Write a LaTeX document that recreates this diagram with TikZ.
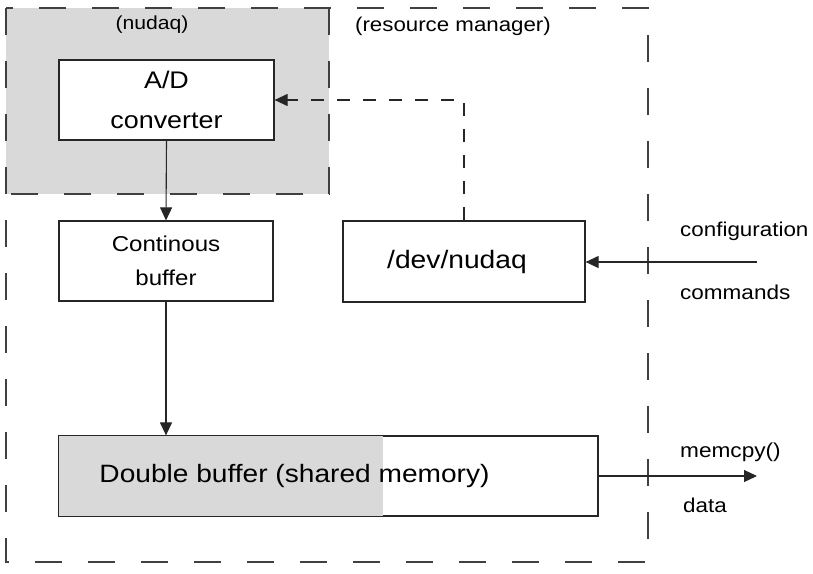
\documentclass[tikz,border=0pt]{standalone}
\usepackage{fontspec}
\setmainfont{Liberation Sans}[FakeStretch=1.12]
\usetikzlibrary{arrows.meta}
\definecolor{panelgray}{gray}{0.85}
\begin{document}
\begin{tikzpicture}[x=1pt,y=-1pt,
  box/.style={draw=black!85,line width=1.2pt,fill=white,inner sep=0pt},
  outerdash/.style={draw=black!75,line width=1.2pt,dash pattern=on 27pt off 26pt},
  flow/.style={draw=black!85,line width=1.1pt,-{Triangle[length=13pt,width=12pt]}},
  ctrl/.style={flow,dash pattern=on 13pt off 13pt},
  lbl/.style={anchor=base west,inner sep=0pt}]
\useasboundingbox (0,0) rectangle (813,573);

% shaded region of the nudaq driver
\fill[panelgray] (6,8) rectangle (329,194);

% resource manager boundary
\draw[outerdash] (6,8) rectangle (648,562);
\draw[outerdash] (329,8) -- (329,194) -- (6,194);

\node[inner sep=0pt] (nudaqlbl) at (152,25) {\fontsize{18.9}{22}\selectfont (nudaq)};
\node[inner sep=0pt] (rmlbl) at (453,26) {\fontsize{19.9}{22}\selectfont (resource manager)};

% processing blocks
\node[box,minimum width=215pt,minimum height=80pt,align=center,
      font=\fontsize{24}{40}\selectfont] (adc) at (166.5,100) {A/D\\converter};
\node[box,minimum width=214pt,minimum height=80pt,align=center,
      font=\fontsize{21.5}{34}\selectfont] (cbuf) at (166,261) {Continous\\buffer};
\node[box,minimum width=242pt,minimum height=81pt] (dev) at (464,261.5) {};
\node[inner sep=0pt,font=\fontsize{25.2}{28}\selectfont] (devtxt) at (457,261.5) {/dev/nudaq};

\node[box,minimum width=539pt,minimum height=80pt] (dbuf) at (328.5,476) {};
\fill[panelgray] (dbuf.north west) rectangle (383,516);
\draw[black!85,line width=1.2pt] (dbuf.north west) rectangle (dbuf.south east);
\node[inner sep=0pt,font=\fontsize{25.1}{28}\selectfont] (dbtxt) at (294.5,476) {Double buffer (shared memory)};

% data flow
\draw[flow] (adc.south) -- (cbuf.north);
\draw[flow] (cbuf.south) -- (dbuf.north -| cbuf.south);

% control path from the device node to the converter
\coordinate (bend) at (dev.north |- adc.east);
\draw[ctrl] (dev.north) -- (bend) -- (adc.east);

% external interfaces
\coordinate (cfgin) at (757,262);
\draw[flow] (cfgin) -- (dev.east |- cfgin);
\node[lbl,font=\fontsize{20}{22}\selectfont] (cfg) at (680,236) {configuration};
\node[lbl,font=\fontsize{20.1}{22}\selectfont] (cmd) at (680,299) {commands};

\coordinate (dataout) at (757,476);
\draw[flow] (dbuf.east) -- (dataout);
\node[lbl,font=\fontsize{20.2}{22}\selectfont] (mcp) at (680,457) {memcpy()};
\node[lbl,font=\fontsize{20}{22}\selectfont] (dat) at (683,512) {data};
\end{tikzpicture}
\end{document}
